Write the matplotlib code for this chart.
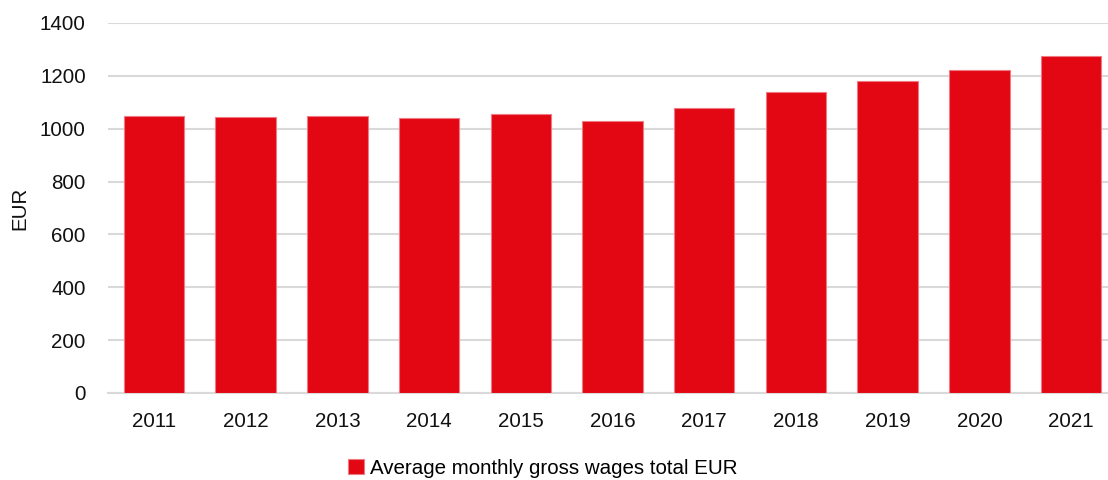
import matplotlib.pyplot as plt
from matplotlib import font_manager

years = ['2011', '2012', '2013', '2014', '2015', '2016',
         '2017', '2018', '2019', '2020', '2021']
wages = [1047, 1045, 1047, 1040, 1057, 1028, 1078, 1138, 1180, 1221, 1274]
yticks = [0, 200, 400, 600, 800, 1000, 1200, 1400]

names = {f.name for f in font_manager.fontManager.ttflist}
fam = 'Liberation Sans Narrow' if 'Liberation Sans Narrow' in names else 'Liberation Sans'
plt.rcParams['font.family'] = [fam, 'DejaVu Sans']
fs = 15.5 if fam == 'Liberation Sans Narrow' else 14.8

red = '#E30613'
grid = '#D9D9D9'

fig = plt.figure(figsize=(11.08, 4.8), dpi=100)
ax = fig.add_axes([108 / 1108, 1 - 393 / 480, (1117 - 108) / 1108, 370 / 480])

x = range(len(years))
ax.bar(x, wages, width=0.66, color=red, edgecolor='#F07A84', linewidth=0.8,
       label='Average monthly gross wages total EUR', zorder=3)

ax.set_xlim(-0.5, len(years) - 0.5)
ax.set_ylim(0, 1400)
ax.set_yticks(yticks)
ax.set_xticks(list(x))
ax.set_xticklabels(years)
ax.yaxis.grid(True, color=grid, linewidth=1.5, zorder=0)
ax.tick_params(axis='both', length=0, labelsize=fs, colors='#111111')
ax.tick_params(axis='y', pad=16)
ax.tick_params(axis='x', pad=14)
for s in ['top', 'right', 'left']:
    ax.spines[s].set_visible(False)
ax.spines['bottom'].set_color(grid)
ax.spines['bottom'].set_linewidth(1.5)

fig.text(20 / 1108, 1 - 208 / 480, 'EUR', rotation=90, ha='center', va='center',
         fontsize=fs, color='#111111')

fig.legend(loc='center', bbox_to_anchor=(543 / 1108, 1 - 468 / 480), frameon=False,
           fontsize=fs, handlelength=0.75, handleheight=0.75, handletextpad=0.3)

fig.savefig('out.png', dpi=100)
